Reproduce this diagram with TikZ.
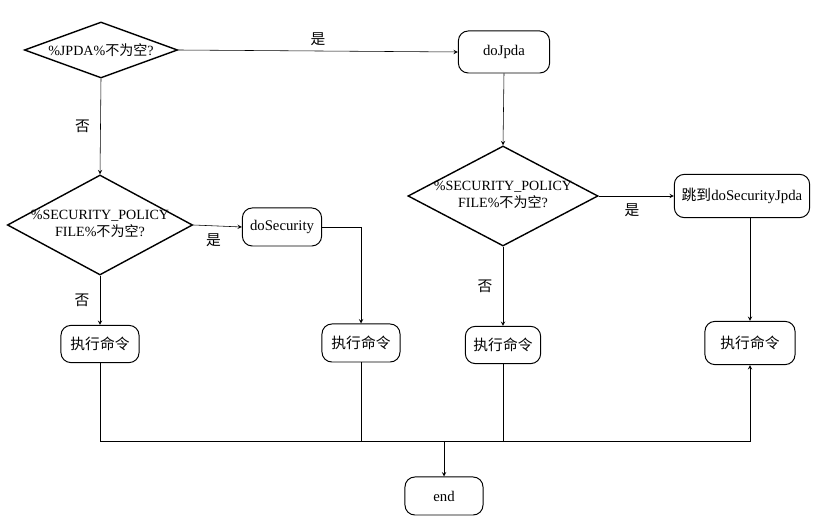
\documentclass[tikz,border=0pt]{standalone}
\usepackage{fontspec}
\setmainfont{Liberation Serif}
\newfontfamily\cjk{Noto Sans CJK SC}
\usetikzlibrary{shapes.geometric}
\begin{document}
\begin{tikzpicture}[x=0.025cm,y=-0.025cm,>=stealth,font=\fontsize{10.5}{12.5}\selectfont,
        cond/.style={diamond,draw,line width=1pt,inner sep=0pt,aspect=2,font=\fontsize{10}{12}\selectfont},
        act/.style={draw,line width=0.7pt,rounded corners=7pt,minimum width=1.95cm,minimum height=0.93cm},
        yn/.style={font=\fontsize{10.5}{12.5}\selectfont\cjk}]
        \useasboundingbox (0,0) rectangle (825,523);
        % decisions
        \node[cond,minimum width=3.83cm,minimum height=1.4cm](jpda) at (101,50){\makebox[0pt]{\%JPDA\%{\cjk 不为空}?}};
        \node[cond,minimum width=4.63cm,minimum height=2.5cm](secl) at (100,225){\makebox[0pt]{\raisebox{-4pt}{\begin{tabular}{@{}c@{}}\%SECURITY\_POLICY\\FILE\%{\cjk 不为空}?\end{tabular}}}};
        \node[cond,minimum width=4.75cm,minimum height=2.5cm](secr) at (503,196){\makebox[0pt]{\raisebox{-4pt}{\begin{tabular}{@{}c@{}}\%SECURITY\_POLICY\\FILE\%{\cjk 不为空}?\end{tabular}}}};
        % actions
        \node[act,minimum width=2.28cm,minimum height=1.05cm](dojpda) at (504,52){doJpda};
        \node[act,minimum width=3.38cm,minimum height=1.08cm](jump) at (742,196){{\cjk 跳到}doSecurityJpda};
        \node[act,minimum width=1.98cm,minimum height=0.95cm](dosec) at (282,227){doSecurity};
        \node[act](runa) at (100,344){\cjk 执行命令};
        \node[act,minimum height=0.95cm](runb) at (361,343){\cjk 执行命令};
        \node[act,minimum width=1.88cm](runc) at (503,345){\cjk 执行命令};
        \node[act,minimum width=2.25cm,minimum height=1.08cm](rund) at (750,343){\cjk 执行命令};
        \node[act,minimum height=0.95cm](stop) at (444,496){end};
        \coordinate (bus) at (444,441);
        % connectors
        \draw[->](jpda.east)--node[yn,above]{是}(dojpda.west);
        \draw[->](jpda.south)--node[yn,left=4pt]{否}(secl.north);
        \draw[->](dojpda.south)--(secr.north);
        \draw[->](secl.east)--node[yn,below=2pt,xshift=-3pt]{是}(dosec.west);
        \draw[->](secl.south)--node[yn,left=4pt]{否}(runa.north);
        \draw[->](dosec.east)-|(runb.north);
        \draw[->](secr.east)--node[yn,below=2pt,xshift=-3pt]{是}(jump.west);
        \draw[->](secr.south)--node[yn,left=4pt]{否}(runc.north);
        \draw[->](jump.south-|rund)--(rund.north);
        \draw[->](runa.south)|-(bus-|rund)--(rund.south);
        \draw(runb.south)--(runb.south|-bus);\draw(runc.south)--(runc.south|-bus);
        \draw[->](bus)--(stop.north);
\end{tikzpicture}
\end{document}
